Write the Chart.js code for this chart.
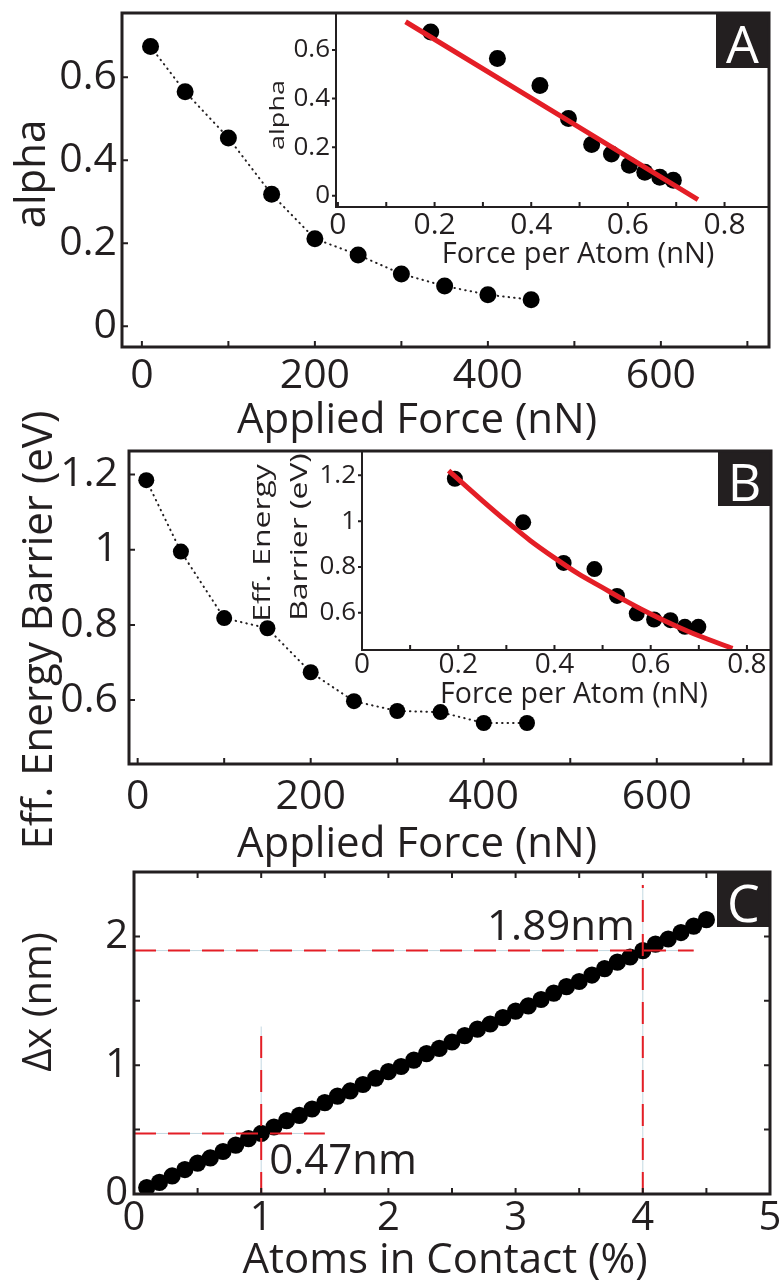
<!DOCTYPE html>
<html lang="en">
<head>
<meta charset="UTF-8">
<title>alpha, energy barrier and contact width</title>
<script src="https://cdn.jsdelivr.net/npm/chart.js@4"></script>
<style>
  html, body { margin: 0; padding: 0; background: #fff; }
  #wrap { position: relative; width: 780px; height: 1282px; }
  #wrap canvas { position: absolute; left: 0; top: 0; }
</style>
</head>
<body>
<div id="wrap">
  <canvas id="mainA" width="780" height="1282"></canvas>
  <canvas id="mainB" width="780" height="1282"></canvas>
  <canvas id="panelC" width="780" height="1282"></canvas>
  <canvas id="insetA" width="780" height="1282"></canvas>
  <canvas id="insetB" width="780" height="1282"></canvas>
</div>
<script>
// ---- data ----
const appliedForce = [10, 50, 100, 150, 200, 250, 300, 350, 400, 450];
const alphaVals = [0.674, 0.565, 0.454, 0.318, 0.211, 0.172, 0.126, 0.097, 0.076, 0.064];
const barrierVals = [1.185, 0.995, 0.818, 0.791, 0.674, 0.597, 0.571, 0.568, 0.539, 0.539];

const forcePerAtomA = [0.192, 0.330, 0.418, 0.477, 0.525, 0.566, 0.603, 0.635, 0.666, 0.694];
const forcePerAtomB = [0.193, 0.335, 0.419, 0.483, 0.530, 0.571, 0.607, 0.641, 0.671, 0.699];

// red fit lines in the insets
const fitAx = [0.14, 0.745];
const fitAy = [0.716, -0.016];
const fitBx = [0.18, 0.25, 0.30, 0.35, 0.40, 0.45, 0.50, 0.55, 0.60, 0.65, 0.70, 0.77];
const fitBy = [1.22, 1.09, 1.00, 0.915, 0.84, 0.77, 0.71, 0.65, 0.595, 0.545, 0.50, 0.445];

// panel C
const atomsPct = [0.1, 0.2, 0.3, 0.4, 0.5, 0.6, 0.7, 0.8, 0.9, 1.0,
  1.1, 1.2, 1.3, 1.4, 1.5, 1.6, 1.7, 1.8, 1.9, 2.0,
  2.1, 2.2, 2.3, 2.4, 2.5, 2.6, 2.7, 2.8, 2.9, 3.0,
  3.1, 3.2, 3.3, 3.4, 3.5, 3.6, 3.7, 3.8, 3.9, 4.0,
  4.1, 4.2, 4.3, 4.4, 4.5];
const deltaX = [0.05, 0.09, 0.14, 0.19, 0.24, 0.28, 0.33, 0.38, 0.43, 0.47,
  0.52, 0.57, 0.61, 0.66, 0.71, 0.76, 0.80, 0.85, 0.90, 0.95,
  0.99, 1.04, 1.09, 1.13, 1.18, 1.23, 1.28, 1.32, 1.37, 1.42,
  1.46, 1.51, 1.56, 1.61, 1.65, 1.70, 1.75, 1.80, 1.84, 1.89,
  1.94, 1.98, 2.03, 2.08, 2.13];
// dashed guides: vertical at guideAtX up to guideVEnd, horizontal at guideDx out to guideHEnd
const guideAtX = [1, 4];
const guideDx = [0.47, 1.89];
const guideHEnd = [1.5, 4.4];
const guideVEnd = [1.3, 2.4];

// ---- style ----
const INK = '#231f20';
const RED = '#e41e26';
const FONT = "'Open Sans', sans-serif";

const pts = (xs, ys) => xs.map((x, i) => ({ x: x, y: ys[i] }));
const oneDec = v => String(Math.round(v * 10) / 10);
const every200 = v => (v % 200 === 0 ? String(v) : '');
const evenTenth = v => (Math.round(v * 10) % 2 === 0 ? oneDec(v) : '');
const whole = v => (Number.isInteger(v) ? String(v) : '');

// per-canvas decoration settings (kept outside chart options so they stay plain objects)
const decoFor = {};

// frame, inward/outward ticks, panel letter and free text
const decor = {
  id: 'decor',
  afterDraw(chart) {
    const o = decoFor[chart.canvas.id];
    if (!o) return;
    const { ctx, chartArea: a, scales } = chart;
    const sx = scales.x, sy = scales.y;
    ctx.save();
    ctx.strokeStyle = INK;
    ctx.lineWidth = 2;
    ctx.beginPath();
    sx.ticks.forEach(t => {
      const p = sx.getPixelForValue(t.value);
      ctx.moveTo(p, a.bottom); ctx.lineTo(p, a.bottom - o.xTick);
      if (o.mirror) { ctx.moveTo(p, a.top); ctx.lineTo(p, a.top + o.xTick); }
    });
    sy.ticks.forEach(t => {
      const p = sy.getPixelForValue(t.value);
      ctx.moveTo(a.left, p); ctx.lineTo(a.left + o.yTick, p);
      if (o.mirror) { ctx.moveTo(a.right, p); ctx.lineTo(a.right - o.yTick, p); }
    });
    ctx.stroke();

    if (o.letter) {
      ctx.fillStyle = INK;
      ctx.fillRect(a.right - 53, a.top, 53, 55);
      ctx.fillStyle = '#fff';
      ctx.font = '52px ' + FONT;
      ctx.textAlign = 'center';
      ctx.textBaseline = 'alphabetic';
      ctx.fillText(o.letter, a.right - 26.5, a.top + 50);
    }

    ctx.lineWidth = o.frameWidth;
    ctx.beginPath();
    if (o.box) {
      ctx.rect(a.left, a.top, a.width, a.height);
    } else {
      ctx.moveTo(a.left, a.top); ctx.lineTo(a.left, a.bottom); ctx.lineTo(a.right, a.bottom);
    }
    ctx.stroke();

    o.texts.forEach(t => {
      ctx.save();
      ctx.font = t.size + 'px ' + FONT;
      ctx.fillStyle = INK;
      ctx.textAlign = t.align || 'center';
      ctx.textBaseline = 'alphabetic';
      let x = t.x, y = t.y;
      if (t.at) {
        x = sx.getPixelForValue(t.at[0]) + t.dx;
        y = sy.getPixelForValue(t.at[1]) + t.dy;
      }
      ctx.translate(x, y);
      if (t.rot) ctx.rotate(-Math.PI / 2);
      if (t.stretch) ctx.scale(t.stretch, 1);
      ctx.fillText(t.text, 0, 0);
      ctx.restore();
    });
    ctx.restore();
  }
};
Chart.register(decor);

function axis(pos, min, max, step, size, pad, fixed, fmt) {
  return {
    type: 'linear', position: pos, min: min, max: max,
    grid: { display: false, drawTicks: false },
    border: { display: false },
    ticks: {
      stepSize: step, includeBounds: false, autoSkip: false, maxRotation: 0,
      padding: pad, color: INK, callback: fmt,
      font: { family: FONT, size: size, lineHeight: 1 }
    },
    afterFit(s) {
      if (s.isHorizontal()) s.height = fixed; else s.width = fixed;
      s.paddingLeft = s.paddingRight = s.paddingTop = s.paddingBottom = 0;
    }
  };
}

// area = [left, top, right, bottom] of the plot box in page pixels
function makeChart(id, area, xh, scales, datasets, deco) {
  decoFor[id] = deco;
  return new Chart(document.getElementById(id), {
    type: 'scatter',
    data: { datasets: datasets },
    options: {
      responsive: false, animation: false, events: [],
      layout: { padding: { left: 0, top: area[1], right: 780 - area[2], bottom: 1282 - area[3] - xh } },
      scales: scales,
      plugins: { legend: { display: false }, tooltip: { enabled: false } }
    }
  });
}

const dots = (data, r) => ({
  data: data, showLine: false, pointRadius: r,
  pointBackgroundColor: '#000', pointBorderColor: '#000', pointBorderWidth: 0
});
const dottedDots = (data, r) => Object.assign(dots(data, r), {
  showLine: true, borderColor: INK, borderWidth: 2, borderDash: [0.5, 5], borderCapStyle: 'round'
});
const redLine = data => ({
  data: data, showLine: true, borderColor: RED, borderWidth: 5, pointRadius: 0, tension: 0.3
});

// ---- panel A ----
makeChart('mainA', [122, 13, 769, 347], 100, {
  x: axis('bottom', -23, 725, 100, 41, 9, 100, every200),
  y: axis('left', -0.05, 0.755, 0.2, 41, 5, 122, oneDec)
}, [dottedDots(pts(appliedForce, alphaVals), 8.5)], {
  box: true, frameWidth: 3, xTick: 6, yTick: 6, letter: 'A',
  texts: [
    { text: 'alpha', x: 45, y: 174, size: 42, rot: true },
    { text: 'Applied Force (nN)', x: 417, y: 433, size: 42 }
  ]
});

makeChart('insetA', [336, 13, 769, 207], 60, {
  x: axis('bottom', -0.004, 0.892, 0.1, 30, 3, 60, evenTenth),
  y: axis('left', -0.046, 0.752, 0.2, 26, 6, 336, oneDec)
}, [redLine(pts(fitAx, fitAy)), dots(pts(forcePerAtomA, alphaVals), 8.5)], {
  box: false, frameWidth: 2, xTick: 5, yTick: -4,
  texts: [
    { text: 'alpha', x: 284, y: 115, size: 20, rot: true, stretch: 1.35 },
    { text: 'Force per Atom (nN)', x: 578, y: 263, size: 29 }
  ]
});

// ---- panel B ----
makeChart('mainB', [129, 451, 771, 764], 100, {
  x: axis('bottom', -10, 732, 100, 41, 13, 100, every200),
  y: axis('left', 0.43, 1.2625, 0.2, 41, 11, 129, oneDec)
}, [dottedDots(pts(appliedForce, barrierVals), 8)], {
  box: true, frameWidth: 3, xTick: 6, yTick: 6, letter: 'B',
  texts: [
    { text: 'Eff. Energy Barrier (eV)', x: 52, y: 630, size: 42, rot: true },
    { text: 'Applied Force (nN)', x: 417, y: 857, size: 42 }
  ]
});

makeChart('insetB', [362, 451, 771, 650], 60, {
  x: axis('bottom', 0, 0.85, 0.1, 28, 1, 60, evenTenth),
  y: axis('left', 0.438, 1.306, 0.2, 26, 6, 362, oneDec)
}, [redLine(pts(fitBx, fitBy)), dots(pts(forcePerAtomB, barrierVals), 8)], {
  box: false, frameWidth: 2, xTick: 5, yTick: -4,
  texts: [
    { text: 'Eff. Energy', x: 270, y: 543, size: 24, rot: true, stretch: 1.33 },
    { text: 'Barrier (eV)', x: 307, y: 537, size: 24, rot: true, stretch: 1.33 },
    { text: 'Force per Atom (nN)', x: 574, y: 703, size: 28.5 }
  ]
});

// ---- panel C ----
const guideSets = [];
const faintSets = [];
guideAtX.forEach((gx, i) => {
  const h = [{ x: 0, y: guideDx[i] }, { x: guideHEnd[i], y: guideDx[i] }];
  const v = [{ x: gx, y: 0 }, { x: gx, y: guideVEnd[i] }];
  [h, v].forEach(d => {
    guideSets.push({ data: d, showLine: true, borderColor: RED, borderWidth: 2, borderDash: [22, 12], pointRadius: 0 });
    faintSets.push({ data: d, showLine: true, borderColor: 'rgba(170,200,212,0.7)', borderWidth: 1, pointRadius: 0 });
  });
});

makeChart('panelC', [134, 872, 770, 1194], 88, {
  x: axis('bottom', 0, 5, 0.5, 40, 5, 88, whole),
  y: axis('left', 0, 2.5, 0.5, 40, 6, 134, whole)
}, guideSets.concat([dots(pts(atomsPct, deltaX), 8.6)], faintSets), {
  box: true, frameWidth: 3, xTick: 6, yTick: 6, mirror: true, letter: 'C',
  texts: [
    { text: '\u0394x (nm)', x: 51, y: 1002, size: 40, rot: true },
    { text: 'Atoms in Contact (%)', x: 445, y: 1273, size: 42 },
    { text: '1.89nm', at: [guideAtX[1], guideDx[1]], dx: -8, dy: -11, size: 42, align: 'right' },
    { text: '0.47nm', at: [guideAtX[0], guideDx[0]], dx: 8, dy: 41, size: 42, align: 'left' }
  ]
});
</script>
</body>
</html>
